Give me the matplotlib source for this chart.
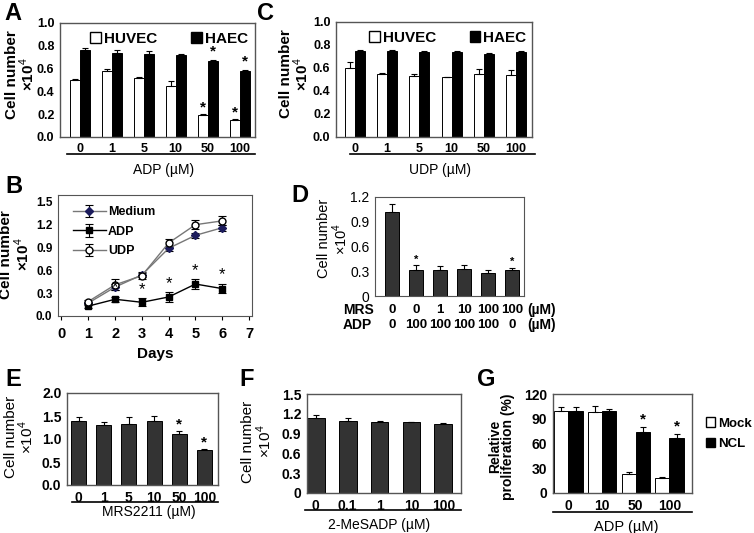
import numpy as np
import matplotlib
matplotlib.use("Agg")
import matplotlib.pyplot as plt
from matplotlib.lines import Line2D
from matplotlib.patches import Patch

plt.rcParams["font.family"] = ["Liberation Sans", "DejaVu Sans"]
plt.rcParams["mathtext.fontset"] = "custom"
plt.rcParams["mathtext.rm"] = "Liberation Sans"
plt.rcParams["mathtext.bf"] = "Liberation Sans:bold"

# -----------------------------
# Data
# -----------------------------
# Panel A: ADP dose, HUVEC vs HAEC
a_conc = ["0", "1", "5", "10", "50", "100"]
a_huvec = [0.50, 0.58, 0.52, 0.45, 0.19, 0.15]
a_huvec_err = [0.005, 0.02, 0.005, 0.04, 0.01, 0.005]
a_haec = [0.76, 0.74, 0.73, 0.72, 0.67, 0.58]
a_haec_err = [0.02, 0.02, 0.02, 0.005, 0.005, 0.01]
a_huvec_sig = [0, 0, 0, 0, 1, 1]
a_haec_sig = [0, 0, 0, 0, 1, 1]

# Panel C: UDP dose
c_conc = ["0", "1", "5", "10", "50", "100"]
c_huvec = [0.60, 0.55, 0.53, 0.52, 0.55, 0.54]
c_huvec_err = [0.05, 0.005, 0.02, 0.005, 0.04, 0.04]
c_haec = [0.75, 0.75, 0.74, 0.74, 0.72, 0.74]
c_haec_err = [0.01, 0.005, 0.01, 0.01, 0.01, 0.01]

# Panel B: time course
b_days = [1, 2, 3, 4, 5, 6]
b_medium = [0.17, 0.38, 0.54, 0.89, 1.06, 1.16]
b_medium_err = [0.02, 0.04, 0.03, 0.03, 0.03, 0.04]
b_adp = [0.13, 0.22, 0.18, 0.25, 0.42, 0.36]
b_adp_err = [0.03, 0.03, 0.05, 0.06, 0.06, 0.06]
b_udp = [0.19, 0.41, 0.53, 0.96, 1.20, 1.25]
b_udp_err = [0.02, 0.07, 0.05, 0.05, 0.06, 0.06]
b_adp_sig = [0, 1, 1, 1, 1, 1]

# Panel D: MRS + ADP
d_mrs = ["0", "0", "1", "10", "100", "100"]
d_adp = ["0", "100", "100", "100", "100", "0"]
d_vals = [1.02, 0.31, 0.32, 0.33, 0.28, 0.32]
d_err = [0.10, 0.06, 0.04, 0.04, 0.03, 0.02]
d_sig = [0, 1, 0, 0, 0, 1]

# Panel E: MRS2211
e_conc = ["0", "1", "5", "10", "50", "100"]
e_vals = [1.40, 1.30, 1.33, 1.40, 1.10, 0.76]
e_err = [0.07, 0.08, 0.14, 0.11, 0.07, 0.02]
e_sig = [0, 0, 0, 0, 1, 1]

# Panel F: 2-MeSADP
f_conc = ["0", "0.1", "1", "10", "100"]
f_vals = [1.13, 1.09, 1.08, 1.07, 1.05]
f_err = [0.05, 0.04, 0.01, 0.01, 0.01]

# Panel G: Mock vs NCL
g_conc = ["0", "10", "50", "100"]
g_mock = [100, 98, 23, 18]
g_mock_err = [4, 7, 3, 1]
g_ncl = [100, 100, 74, 67]
g_ncl_err = [4, 2, 6, 5]
g_ncl_sig = [0, 0, 1, 1]

W, H = 754, 533
DARK = "#333333"
SPINE = "#555555"
CELL_LABEL = "Cell number\n\u00d710$^4$"

fig = plt.figure(figsize=(W / 100, H / 100), dpi=100)


def add_axes(left, top, right, bottom):
    # pixel box -> figure fraction
    return fig.add_axes([left / W, 1 - bottom / H, (right - left) / W, (bottom - top) / H])


def style_bar_axes(ax, tick_size=9):
    for s in ax.spines.values():
        s.set_color(SPINE)
        s.set_linewidth(1)
    ax.tick_params(length=0, pad=4, labelsize=tick_size)
    for lab in ax.get_xticklabels() + ax.get_yticklabels():
        lab.set_fontweight("bold")


def ylabel(ax, text, x, y, size=11, weight="bold"):
    ax.set_ylabel(text, fontsize=size, fontweight=weight, linespacing=0.95)
    ax.yaxis.label.set_verticalalignment("center")
    ax.yaxis.set_label_coords(x, y)


def underline(ax, x0, x1, dy_px):
    y = -dy_px / (ax.bbox.height)
    ax.add_line(Line2D([x0, x1], [y, y], transform=ax.transAxes, color="black",
                       lw=1.2, clip_on=False))


def stars(ax, xs, vals, errs, flags, offset, size=11):
    for x, v, e, f in zip(xs, vals, errs, flags):
        if f:
            ax.text(x, v + e + offset, "*", ha="center", va="bottom",
                    fontsize=size, fontweight="bold")


def panel_letter(x, y, letter):
    fig.text(x / W, 1 - y / H, letter, fontsize=17, fontweight="bold",
             ha="center", va="center")


err_kw = dict(ecolor="black", elinewidth=0.8, capsize=2.5, capthick=0.8)


def grouped(ax, conc, v1, e1, v2, e2, width):
    x = np.arange(len(conc))
    ax.bar(x - width / 2, v1, width, color="white", edgecolor="black", lw=0.7,
           yerr=[np.zeros(len(v1)), e1], error_kw=err_kw)
    ax.bar(x + width / 2, v2, width, color="black", edgecolor="black", lw=0.7,
           yerr=[np.zeros(len(v2)), e2], error_kw=err_kw)
    ax.set_xticks(x)
    ax.set_xticklabels(conc)
    return x


def cell_legend(ax, labels, anchor):
    ax.legend(handles=[Patch(facecolor="white", edgecolor="black", label=labels[0]),
                       Patch(facecolor="black", edgecolor="black", label=labels[1])],
              ncol=2, loc="upper center", bbox_to_anchor=anchor, frameon=False,
              handlelength=0.7, handleheight=0.7, handletextpad=0.2, columnspacing=2.2,
              prop={"weight": "bold", "size": 11})


# -----------------------------
# Panel A
# -----------------------------
axA = add_axes(60, 23, 255, 137)
xa = grouped(axA, a_conc, a_huvec, a_huvec_err, a_haec, a_haec_err, 0.31)
axA.set_xlim(-0.62, 5.48)
axA.set_ylim(0, 1.0)
axA.set_yticks(np.arange(0, 1.01, 0.2))
axA.set_yticklabels([f"{v:.1f}" for v in np.arange(0, 1.01, 0.2)])
style_bar_axes(axA)
stars(axA, xa - 0.155, a_huvec, a_huvec_err, a_huvec_sig, 0.0)
stars(axA, xa + 0.155, a_haec, a_haec_err, a_haec_sig, 0.01)
ylabel(axA, CELL_LABEL, -0.2, 0.55)
cell_legend(axA, ["HUVEC", "HAEC"], (0.56, 1.04))
underline(axA, 0.035, 1.0, 17)
axA.text(0.53, -0.23, "ADP (\u00b5M)", transform=axA.transAxes, ha="center",
         va="top", fontsize=10)
panel_letter(13, 13, "A")

# -----------------------------
# Panel C
# -----------------------------
axC = add_axes(336, 22, 532, 137)
xc = grouped(axC, c_conc, c_huvec, c_huvec_err, c_haec, c_haec_err, 0.31)
axC.set_xlim(-0.59, 5.5)
axC.set_ylim(0, 1.0)
axC.set_yticks(np.arange(0, 1.01, 0.2))
axC.set_yticklabels([f"{v:.1f}" for v in np.arange(0, 1.01, 0.2)])
style_bar_axes(axC)
ylabel(axC, CELL_LABEL, -0.21, 0.55)
cell_legend(axC, ["HUVEC", "HAEC"], (0.57, 1.04))
underline(axC, 0.07, 1.015, 17)
axC.text(0.53, -0.23, "UDP (\u00b5M)", transform=axC.transAxes, ha="center",
         va="top", fontsize=10)
panel_letter(266, 13, "C")

# -----------------------------
# Panel B
# -----------------------------
axB = add_axes(58, 195, 252, 316)
line_err = dict(capsize=3, elinewidth=0.8, capthick=0.8)
axB.errorbar(b_days, b_medium, yerr=b_medium_err, color="#777777", ecolor="black",
             marker="D", ms=4, mfc="#1c1c5c", mec="#1c1c5c", lw=1, label="Medium", **line_err)
axB.errorbar(b_days, b_adp, yerr=b_adp_err, color="black", ecolor="black",
             marker="s", ms=5, mfc="black", mec="black", lw=1, label="ADP", **line_err)
axB.errorbar(b_days, b_udp, yerr=b_udp_err, color="#777777", ecolor="black",
             marker="o", ms=5, mfc="white", mec="black", lw=1, label="UDP", **line_err)
for d, v, e, f in zip(b_days, b_adp, b_adp_err, b_adp_sig):
    if f:
        axB.text(d, v + e + 0.02, "*", ha="center", va="bottom", fontsize=12)
axB.set_xlim(-0.13, 7.11)
axB.set_ylim(0, 1.59)
axB.set_xticks(range(0, 8))
axB.set_yticks(np.arange(0, 1.51, 0.3))
axB.set_yticklabels([f"{v:.1f}" for v in np.arange(0, 1.51, 0.3)])
for s in axB.spines.values():
    s.set_color(SPINE)
axB.tick_params(axis="x", direction="out", length=3, labelsize=10.5, pad=5)
axB.tick_params(axis="y", length=0, labelsize=8.5, pad=4)
for lab in axB.get_xticklabels() + axB.get_yticklabels():
    lab.set_fontweight("bold")
axB.set_xlabel("Days", fontsize=11, fontweight="bold", labelpad=4)
ylabel(axB, CELL_LABEL, -0.22, 0.51)
axB.legend(loc="upper left", bbox_to_anchor=(0.02, 1.0), frameon=False,
           handlelength=2.6, handletextpad=0.2, labelspacing=0.6,
           prop={"weight": "bold", "size": 9})
panel_letter(14, 186, "B")

# -----------------------------
# Panel D
# -----------------------------
axD = add_axes(375, 197, 524, 296)
xd = np.arange(len(d_vals))
axD.bar(xd, d_vals, 0.55, color=DARK, edgecolor="black", lw=0.7,
        yerr=[np.zeros(len(d_vals)), d_err], error_kw=err_kw)
stars(axD, xd, d_vals, d_err, d_sig, 0.01, size=8)
axD.set_xlim(-0.71, 5.5)
axD.set_ylim(0, 1.2)
axD.set_yticks(np.arange(0, 1.21, 0.3))
axD.set_yticklabels(["0", "0.3", "0.6", "0.9", "1.2"])
axD.set_xticks([])
for s in axD.spines.values():
    s.set_color(SPINE)
axD.tick_params(length=0, labelsize=10, pad=4)
ylabel(axD, CELL_LABEL, -0.28, 0.58, size=10.5, weight="normal")
for x, m, a in zip(xd, d_mrs, d_adp):
    axD.text(x, -14 / 99, m, transform=axD.get_xaxis_transform(), ha="center",
             va="center", fontsize=9.5, fontweight="bold")
    axD.text(x, -29 / 99, a, transform=axD.get_xaxis_transform(), ha="center",
             va="center", fontsize=9.5, fontweight="bold")
axD.text(-32 / 149, -14 / 99, "MRS", transform=axD.transAxes, ha="left",
         va="center", fontsize=10, fontweight="bold")
axD.text(-32 / 149, -29 / 99, "ADP", transform=axD.transAxes, ha="left",
         va="center", fontsize=10, fontweight="bold")
axD.text(1.02, -14 / 99, "(\u00b5M)", transform=axD.transAxes, ha="left",
         va="center", fontsize=10, fontweight="bold")
axD.text(1.02, -29 / 99, "(\u00b5M)", transform=axD.transAxes, ha="left",
         va="center", fontsize=10, fontweight="bold")
panel_letter(300, 195, "D")

# -----------------------------
# Panel E
# -----------------------------
axE = add_axes(67, 393, 218, 485)
xe = np.arange(len(e_vals))
axE.bar(xe, e_vals, 0.6, color=DARK, edgecolor="black", lw=0.7,
        yerr=[np.zeros(len(e_vals)), e_err], error_kw=err_kw)
stars(axE, xe, e_vals, e_err, e_sig, 0.0)
axE.set_xlim(-0.46, 5.54)
axE.set_ylim(0, 2.0)
axE.set_yticks(np.arange(0, 2.01, 0.5))
axE.set_yticklabels([f"{v:.1f}" for v in np.arange(0, 2.01, 0.5)])
axE.set_xticks(xe)
axE.set_xticklabels(e_conc)
style_bar_axes(axE, tick_size=10)
ylabel(axE, CELL_LABEL, -0.31, 0.52, weight="normal")
underline(axE, 0.03, 1.0, 17)
axE.text(0.54, -0.22, "MRS2211 (\u00b5M)", transform=axE.transAxes, ha="center",
         va="top", fontsize=10)
panel_letter(13, 380, "E")

# -----------------------------
# Panel F
# -----------------------------
axF = add_axes(307, 394, 461, 493)
xf = np.arange(len(f_vals))
axF.bar(xf, f_vals, 0.56, color=DARK, edgecolor="black", lw=0.7,
        yerr=[np.zeros(len(f_vals)), f_err], error_kw=err_kw)
axF.set_xlim(-0.27, 4.55)
axF.set_ylim(0, 1.5)
axF.set_yticks(np.arange(0, 1.51, 0.3))
axF.set_yticklabels(["0", "0.3", "0.6", "0.9", "1.2", "1.5"])
axF.set_xticks(xf)
axF.set_xticklabels(f_conc)
style_bar_axes(axF, tick_size=10)
ylabel(axF, CELL_LABEL, -0.32, 0.52, weight="normal")
underline(axF, -0.01, 1.0, 17)
axF.text(0.47, -0.25, "2-MeSADP (\u00b5M)", transform=axF.transAxes, ha="center",
         va="top", fontsize=10)
panel_letter(247, 380, "F")

# -----------------------------
# Panel G
# -----------------------------
axG = add_axes(553, 394, 692, 493)
xg = grouped(axG, g_conc, g_mock, g_mock_err, g_ncl, g_ncl_err, 0.42)
stars(axG, xg + 0.21, g_ncl, g_ncl_err, g_ncl_sig, 0.5)
axG.set_xlim(-0.46, 3.67)
axG.set_ylim(0, 120)
axG.set_yticks(np.arange(0, 121, 30))
style_bar_axes(axG, tick_size=10)
ylabel(axG, "Relative\nproliferation (%)", -0.37, 0.47, size=10, weight="bold")
axG.legend(handles=[Patch(facecolor="white", edgecolor="black", label="Mock"),
                    Patch(facecolor="black", edgecolor="black", label="NCL")],
           loc="center left", bbox_to_anchor=(1.1, 0.6), frameon=False,
           borderaxespad=0, borderpad=0,
           handlelength=0.7, handleheight=0.7, handletextpad=0.2, labelspacing=0.6,
           prop={"weight": "bold", "size": 9.5})
underline(axG, 0.0, 1.0, 19)
axG.text(0.53, -0.27, "ADP (\u00b5M)", transform=axG.transAxes, ha="center",
         va="top", fontsize=10.5)
panel_letter(486, 380, "G")

fig.savefig("out.png", dpi=100)
